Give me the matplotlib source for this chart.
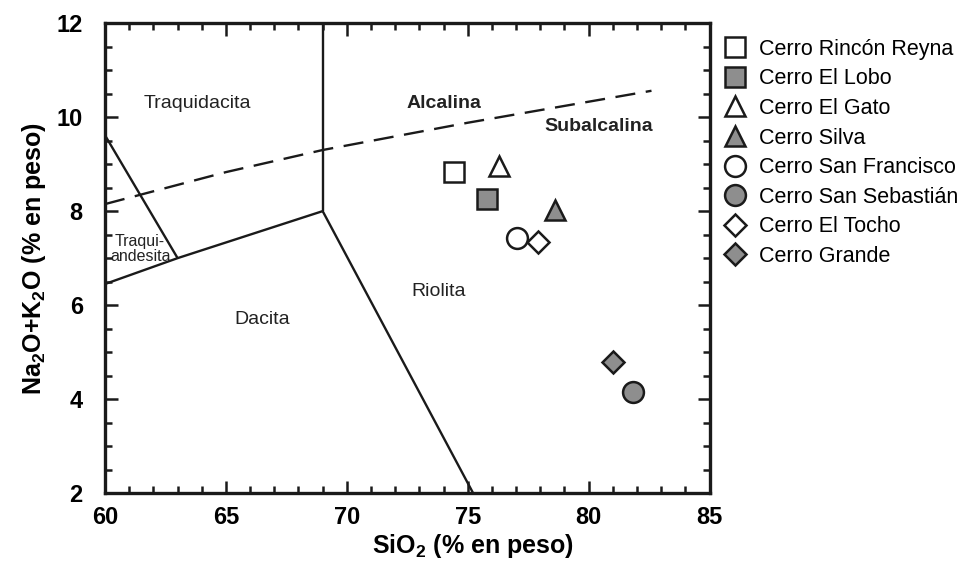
import matplotlib
matplotlib.use("Agg")
import matplotlib.pyplot as plt
from matplotlib.lines import Line2D
from matplotlib.ticker import MultipleLocator

plt.rcParams['font.family'] = ['Liberation Sans', 'DejaVu Sans']
plt.rcParams['mathtext.fontset'] = 'custom'
plt.rcParams['mathtext.rm'] = 'Liberation Sans'
plt.rcParams['mathtext.bf'] = 'Liberation Sans:bold'

# samples (SiO2, Na2O+K2O)
names = ['Cerro Rincón Reyna', 'Cerro El Lobo', 'Cerro El Gato', 'Cerro Silva',
         'Cerro San Francisco', 'Cerro San Sebastián', 'Cerro El Tocho', 'Cerro Grande']
sio2 = [74.45, 75.8, 76.3, 78.6, 77.05, 81.85, 77.9, 81.0]
alk = [8.83, 8.25, 8.95, 8.02, 7.42, 4.15, 7.35, 4.78]
markers = ['s', 's', '^', '^', 'o', 'o', 'D', 'D']
fills = ['white', '#8e8e8e', 'white', '#8e8e8e', 'white', '#8e8e8e', 'white', '#8e8e8e']
sizes = [14, 14, 15, 15, 15, 15, 11, 11]

# TAS field boundaries
v_x, v_y = [69, 69], [8, 12]
rd_x, rd_y = [69, 77.3], [8, 0]
ta_x, ta_y = [57.6, 63], [11.7, 7]
low_x, low_y = [57, 63, 69], [5.9, 7, 8]
# alkaline / subalkaline divide
alc_x = [60, 65, 69, 75, 82.6]
alc_y = [8.15, 8.83, 9.3, 9.88, 10.56]

fig = plt.figure(figsize=(9.64, 5.63), dpi=100)
ax = fig.add_axes([0.109, 0.124, 0.627, 0.835])

for xs, ys in [(v_x, v_y), (rd_x, rd_y), (ta_x, ta_y), (low_x, low_y)]:
    ax.plot(xs, ys, color='#1a1a1a', lw=1.7, solid_capstyle='butt')
ax.plot(alc_x, alc_y, color='#1a1a1a', lw=1.7, dashes=(8.5, 4.5))

for i in range(len(names)):
    ax.plot(sio2[i], alk[i], linestyle='none', marker=markers[i], ms=sizes[i],
            mfc=fills[i], mec='#1a1a1a', mew=1.8, zorder=5)

ax.text(63.8, 10.3, 'Traquidacita', fontsize=14, ha='center', va='center', color='#222')
ax.text(61.45, 7.2, 'Traqui-\nandesita', fontsize=11.5, ha='center', va='center',
        color='#222', linespacing=1.0)
ax.text(66.5, 5.7, 'Dacita', fontsize=14, ha='center', va='center', color='#222')
ax.text(73.8, 6.3, 'Riolita', fontsize=14, ha='center', va='center', color='#222')
ax.text(74.0, 10.3, 'Alcalina', fontsize=14, ha='center', va='center',
        fontweight='bold', color='#222')
ax.text(80.4, 9.8, 'Subalcalina', fontsize=14, ha='center', va='center',
        fontweight='bold', color='#222')

ax.set_xlim(60, 85)
ax.set_ylim(2, 12)
ax.xaxis.set_major_locator(MultipleLocator(5))
ax.xaxis.set_minor_locator(MultipleLocator(1))
ax.yaxis.set_major_locator(MultipleLocator(2))
ax.yaxis.set_minor_locator(MultipleLocator(0.5))
ax.tick_params(which='both', direction='in', top=True, right=True, width=1.8,
               color='#1a1a1a')
ax.tick_params(which='major', length=9, labelsize=17)
ax.tick_params(axis='x', which='major', pad=9)
ax.tick_params(axis='y', which='major', pad=16)
ax.tick_params(which='minor', length=5)
for lab in ax.get_xticklabels() + ax.get_yticklabels():
    lab.set_fontweight('bold')
for sp in ax.spines.values():
    sp.set_linewidth(2.4)
    sp.set_color('#1a1a1a')

ax.set_xlabel(r'SiO$_\mathbf{2}$ (% en peso)', fontsize=18, fontweight='bold')
ax.set_ylabel(r'Na$_\mathbf{2}$O+K$_\mathbf{2}$O (% en peso)', fontsize=18,
              fontweight='bold')
ax.xaxis.set_label_coords(0.608, -0.083)
ax.yaxis.set_label_coords(-0.095, 0.5)

handles = [Line2D([], [], linestyle='none', marker=markers[i], ms=sizes[i],
                  mfc=fills[i], mec='#1a1a1a', mew=1.8) for i in range(len(names))]
ax.legend(handles, names, loc='upper left', bbox_to_anchor=(1.01, 0.985),
          frameon=False, fontsize=15.5, handlelength=1.0, handletextpad=0.6,
          labelspacing=0.4, borderaxespad=0)

fig.savefig('out.png', dpi=100)
